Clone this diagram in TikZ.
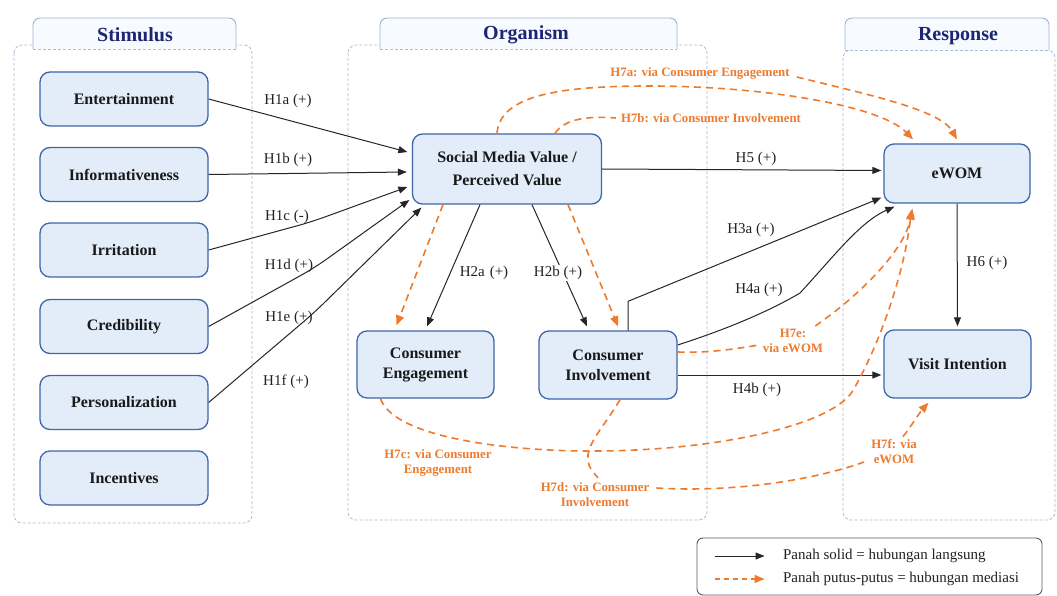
\documentclass[tikz,border=0pt]{standalone}
\usepackage{fontspec}
\setmainfont{Liberation Serif}
\usetikzlibrary{arrows.meta,calc}
\definecolor{boxfill}{HTML}{E3EDFA}
\definecolor{boxline}{HTML}{3E66A8}
\definecolor{navy}{HTML}{1C2673}
\definecolor{orng}{HTML}{EE7A2E}
\definecolor{ctnr}{HTML}{A9BCD8}
\definecolor{tabfill}{HTML}{F7FAFE}
\definecolor{tabline}{HTML}{9DB4D8}
\definecolor{lbl}{HTML}{222222}
\definecolor{legline}{HTML}{5A5A5A}
\begin{document}
\begin{tikzpicture}[x=1pt,y=-1pt,
  var/.style={draw=boxline,line width=1.3pt,fill=boxfill,rounded corners=10pt,inner sep=0pt,align=center,
    font=\fontsize{16}{20}\selectfont\bfseries,text=black!90},
  hl/.style={font=\fontsize{15}{17}\selectfont,text=lbl,inner sep=1pt},
  ol/.style={font=\fontsize{12.8}{15}\selectfont\bfseries,text=orng,align=center,inner sep=1pt},
  hdr/.style={font=\fontsize{20}{22}\selectfont\bfseries,text=navy},
  ctbox/.style={draw=ctnr,line width=0.8pt,dash pattern=on 3pt off 2pt,rounded corners=8pt},
  tabbox/.style={draw=tabline,line width=0.9pt,fill=tabfill,rounded corners=7pt},
  tabbot/.style={draw=ctnr,line width=0.8pt,dash pattern=on 3pt off 2pt},
  arr/.style={draw=black!85,line width=1pt,-{Triangle[length=9pt,width=7pt]}},
  odash/.style={draw=orng,line width=1.6pt,dash pattern=on 7pt off 5pt},
  oarr/.style={odash,-{Triangle[length=10pt,width=8pt]}}
]
\useasboundingbox (0,0) rectangle (1057,596);
\fill[white] (0,0) rectangle (1057,596);

% containers
\draw[ctbox] (14,45) rectangle (252,523);
\draw[ctbox] (348,45) rectangle (707,520);
\draw[ctbox] (843,50) rectangle (1055,520);
% tabs
\draw[tabbox] (33,49) -- (33,18) -- (236,18) -- (236,49);
\draw[tabbot] (33,49) -- (236,49);
\draw[tabbox] (380,49) -- (380,18) -- (677,18) -- (677,49);
\draw[tabbot] (380,49) -- (677,49);
\draw[tabbox] (845,50) -- (845,18) -- (1049,18) -- (1049,50);
\draw[tabbot] (845,50) -- (1049,50);
\node[hdr] (hstim) at (135,35) {Stimulus};
\node[hdr] (horg) at (526,35) {Organism};
\node[hdr] (hresp) at (958,36) {Response};

% stimulus boxes
\node[var,minimum width=168pt,minimum height=54pt] (ent) at (124,99) {Entertainment};
\node[var,minimum width=168pt,minimum height=54pt] (inf) at (124,174.5) {Informativeness};
\node[var,minimum width=168pt,minimum height=54pt] (irr) at (124,250) {Irritation};
\node[var,minimum width=168pt,minimum height=54pt] (cre) at (124,326.5) {Credibility};
\node[var,minimum width=168pt,minimum height=54pt] (per) at (124,402.5) {Personalization};
\node[var,minimum width=168pt,minimum height=54pt] (inc) at (124,478) {Incentives};
% organism / response boxes
\node[var,minimum width=189pt,minimum height=70pt,font=\fontsize{16}{23}\selectfont\bfseries] (smv) at (507,169) {Social Media Value /\\Perceived Value};
\node[var,minimum width=137pt,minimum height=67pt] (ce) at (425.5,364.5) {Consumer\\Engagement};
\node[var,minimum width=138pt,minimum height=68pt] (ci) at (608,365) {Consumer\\Involvement};
\node[var,minimum width=146pt,minimum height=59pt] (ewom) at (957,173.5) {eWOM};
\node[var,minimum width=147pt,minimum height=68pt] (vi) at (957.5,364) {Visit Intention};

% H labels
\node[hl] (h1a) at (288,101) {H1a (+)};
\node[hl] (h1b) at (288,160) {H1b (+)};
\node[hl] (h1c) at (287,217) {H1c (-)};
\node[hl] (h1d) at (289,266) {H1d (+)};
\node[hl] (h1e) at (289,318) {H1e (+)};
\node[hl] (h1f) at (286,382) {H1f (+)};
\node[hl] (h2a) at (484,273) {H2a\,\,(+)};
\node[hl] (h5) at (756,159) {H5 (+)};
\node[hl] (h3a) at (751,230) {H3a (+)};
\node[hl] (h4a) at (759,290) {H4a (+)};
\node[hl] (h4b) at (757,390) {H4b (+)};
\node[hl] (h6) at (987,263) {H6 (+)};

% orange labels
\node[ol] (h7a) at (700,73) {H7a: via Consumer Engagement};
\node[ol] (h7b) at (711,118) {H7b: via Consumer Involvement};
\node[ol] (h7e) at (793,341) {H7e:\\via eWOM};
\node[ol] (h7c) at (438,463) {H7c: via Consumer\\Engagement};
\node[ol] (h7d) at (595,495) {H7d: via Consumer\\Involvement};
\node[ol] (h7f) at (894,452) {H7f: via\\eWOM};

% H1 arrows
\draw[arr] (ent.east) -- ($(smv.west)+(-4.5,-17)$);
\draw[arr] (inf.east) -- ($(smv.west)+(-5,3)$);
\draw[arr,rounded corners=14pt] (irr.east) -- ($(h1c.east)+(1,5)$) -- ($(smv.west)+(-4.5,18)$);
\draw[arr,rounded corners=14pt] (cre.east) -- ($(h1d.east)+(0,2)$) -- ($(smv.west)+(-2.5,31)$);
\draw[arr,rounded corners=14pt] (per.east) -- ($(h1e.east)+(0,-5)$) -- ($(smv.south west)+(9.5,3)$);

% H2
\draw[arr] ($(smv.south)+(-27,0)$) -- ($(ce.north)+(1.5,-4)$);
\draw[arr] ($(smv.south)+(25,0)$) -- ($(ci.north)+(-21,-4)$);
\node[hl,fill=white] (h2b) at (558,273) {H2b (+)};
\draw[oarr] ($(smv.south)+(-64,0)$) -- ($(ce.north)+(-29,-5)$);
\draw[oarr] ($(smv.south)+(61,0)$) -- ($(ci.north)+(10,-4)$);

% H5, H3a, H4a, H4b, H6
\draw[arr] (smv.east) -- ($(ewom.west)+(-2,-3)$);
\draw[arr] ($(ci.north)+(20,0)$) -- ($(ci.north)+(20,-29)$) -- ($(ewom.south west)+(-2,-6)$);
\draw[arr] ($(ci.east)+(0,-20)$) .. controls (740,325) and (780,305) .. (800,293)
   .. controls (835,255) and (860,222) .. ($(ewom.south west)+(11,3)$);
\coordinate (h4bs) at ($(ci.east)+(0,10)$);
\draw[arr] (h4bs) -- ($(h4bs -| vi.west)+(-2,0)$);
\draw[arr] (ewom.south) -- ($(vi.north)+(0,-3)$);

% H7a / H7b
\draw[oarr] ($(smv.north)+(-10,0)$) .. controls (500,95) and (560,86) .. (650,86)
   .. controls (760,86) and (880,105) .. ($(ewom.north)+(-44,-4)$);
\draw[oarr] ($(h7a.east)+(6,4)$) .. controls (870,95) and (940,110) .. ($(ewom.north)+(0,-4)$);
\draw[odash] ($(smv.north)+(48,0)$) .. controls (565,118) and (590,116) .. ($(h7b.west)+(-4,0)$);

% H7e
\draw[odash] ($(ci.east)+(0,-13)$) .. controls (710,353) and (735,349) .. ($(h7e.west)+(-3,4)$);
\draw[oarr] ($(h7e.north east)+(-9,-2)$) .. controls (860,295) and (905,250) .. ($(ewom.south west)+(29,5)$);

% H7c
\draw[oarr] ($(ce.south)+(-45,0)$) .. controls (395,440) and (520,452) .. (600,451)
   .. controls (720,450) and (830,425) .. (852,392)
   .. controls (880,345) and (905,270) .. ($(ewom.south west)+(28,6)$);

% H7d / H7f
\draw[odash] ($(ci.south)+(12,0)$) .. controls (605,425) and (590,440) .. (588,455)
   .. controls (587,466) and (592,471) .. ($(h7d.north)+(3,-4)$);
\draw[odash] ($(h7d.east)+(6,-7)$) .. controls (740,493) and (820,478) .. ($(h7f.west)+(-6,10)$);
\draw[oarr] ($(h7f.north east)+(-15,-2)$) .. controls (912,425) and (920,412) .. ($(vi.south)+(-29,4)$);

% legend
\node[draw=legline,line width=0.9pt,rounded corners=6pt,minimum width=345pt,minimum height=57pt] (leg) at (869.5,566.5) {};
\draw[arr] ($(leg.west)+(18,-10.5)$) -- ++(50,0);
\draw[oarr,line width=1.3pt,dash pattern=on 5pt off 4pt] ($(leg.west)+(18,12.5)$) -- ++(50,0);
\node[anchor=west,font=\fontsize{15}{17}\selectfont,text=lbl] (lt1) at ($(leg.west)+(83,-11)$) {Panah solid = hubungan langsung};
\node[anchor=west,font=\fontsize{15}{17}\selectfont,text=lbl] (lt2) at ($(leg.west)+(83,12.5)$) {Panah putus-putus = hubungan mediasi};
\end{tikzpicture}
\end{document}
